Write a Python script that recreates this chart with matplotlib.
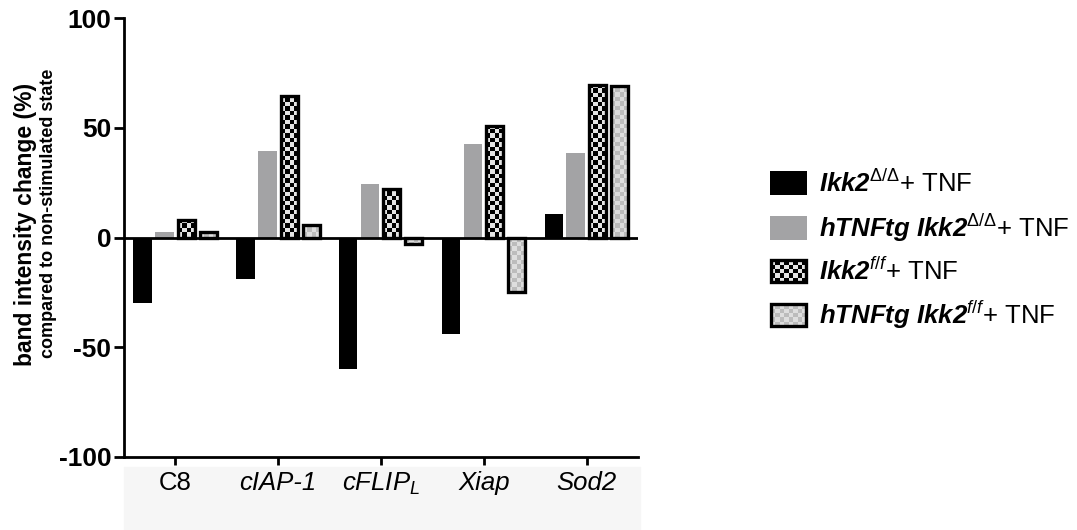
import numpy as np
import matplotlib
matplotlib.use("Agg")
import matplotlib.pyplot as plt
from matplotlib.colors import ListedColormap
from matplotlib.patches import Rectangle

plt.rcParams["font.family"] = ["Liberation Sans", "DejaVu Sans"]
plt.rcParams["mathtext.fontset"] = "custom"
plt.rcParams["mathtext.rm"] = "Liberation Sans"
plt.rcParams["mathtext.it"] = "Liberation Sans:italic"
plt.rcParams["mathtext.bf"] = "Liberation Sans:bold"
plt.rcParams["mathtext.bfit"] = "Liberation Sans:bold:italic"

genes = ["C8", "cIAP-1", r"$\mathit{cFLIP}_{\mathit{L}}$", "Xiap", "Sod2"]
ikk2_dd = [-30, -19, -60, -44, 10.5]
htnf_dd = [2.6, 39.5, 24.3, 42.5, 38.5]
ikk2_ff = [8.2, 64.5, 22, 51, 69.5]
htnf_ff = [2.3, 5.5, -3, -25, 68.8]

legend_labels = [
    r"$\mathbfit{Ikk2}^{\mathit{Δ/Δ}}$+ TNF",
    r"$\mathbfit{hTNFtg\ Ikk2}^{\mathit{Δ/Δ}}$+ TNF",
    r"$\mathbfit{Ikk2}^{\mathit{f/f}}$+ TNF",
    r"$\mathbfit{hTNFtg\ Ikk2}^{\mathit{f/f}}$+ TNF",
]

GRAY = "#a3a3a5"
DARK_CHECK = ("#000000", "#e4e4e4")
LIGHT_CHECK = ("#bcbcbc", "#dedede")


def checker(axis, patch, colors, extent, nx, ny):
    arr = np.add.outer(np.arange(ny), np.arange(nx)) % 2
    im = axis.imshow(arr, cmap=ListedColormap(list(colors)), extent=extent,
                     interpolation="nearest", aspect="auto", zorder=2)
    im.set_clip_path(patch)


fig = plt.figure(figsize=(10.77, 5.30), dpi=100)
W, H = 1077, 530
ax = fig.add_axes([124 / W, 1 - 457 / H, (638 - 124) / W, (457 - 18) / H])

# pale band behind the category labels
fig.add_artist(Rectangle((124 / W, 0), (640 - 124) / W, (530 - 467) / H,
                         transform=fig.transFigure, color="#f6f6f6", zorder=-1))

x = np.arange(len(genes))
step = 0.213
w = 0.18
ax.bar(x - 1.5 * step, ikk2_dd, w, color="black", zorder=3)
ax.bar(x - 0.5 * step, htnf_dd, w, color=GRAY, zorder=3)

cx, cy = 0.043, 2.05
for vals, off, cols in [(ikk2_ff, 0.5, DARK_CHECK), (htnf_ff, 1.5, LIGHT_CHECK)]:
    bars = ax.bar(x + off * step, vals, 0.165, facecolor="none",
                  edgecolor="black", linewidth=2.4, zorder=3)
    for b, v in zip(bars, vals):
        x0 = b.get_x()
        nx = int(np.ceil(b.get_width() / cx))
        ny = max(1, int(np.ceil(abs(v) / cy)))
        top = ny * cy * np.sign(v)
        checker(ax, b, cols, [x0, x0 + nx * cx, min(0, top), max(0, top)], nx, ny)

ax.axhline(0, color="black", linewidth=2, zorder=4)

ax.set_xlim(-0.5, 4.5)
ax.set_ylim(-100, 100)
ax.set_yticks([-100, -50, 0, 50, 100])
ax.set_yticklabels(["-100", "-50", "0", "50", "100"], fontsize=19, fontweight="bold")
ax.set_xticks(x)
ax.set_xticklabels(genes, fontsize=18.5)
for i, t in enumerate(ax.get_xticklabels()):
    if i in (1, 3, 4):
        t.set_fontstyle("italic")
for s in ("top", "right"):
    ax.spines[s].set_visible(False)
for s in ("left", "bottom"):
    ax.spines[s].set_linewidth(2)
ax.tick_params(axis="y", length=7, width=2, pad=2)
ax.tick_params(axis="x", length=6, width=2, pad=4)

fig.text(26 / W, 1 - 224 / H, "band intensity change (%)", rotation=90,
         ha="center", va="center", fontsize=16.5, fontweight="bold")
fig.text(49 / W, 1 - 213 / H, "compared to non-stimulated state", rotation=90,
         ha="center", va="center", fontsize=13, fontweight="bold")

# legend drawn by hand in pixel coordinates
lax = fig.add_axes([0, 0, 1, 1])
lax.set_xlim(0, W)
lax.set_ylim(H, 0)
lax.axis("off")
rows = [183, 228, 271, 315]
styles = [("black", None), (GRAY, None), (None, DARK_CHECK), (None, LIGHT_CHECK)]
for yc, (fc, cols), lab in zip(rows, styles, legend_labels):
    if cols is None:
        lax.add_patch(Rectangle((770, yc - 12), 37, 24, facecolor=fc,
                                edgecolor="none", zorder=3))
    else:
        r = Rectangle((771, yc - 11), 35, 22, facecolor="none",
                      edgecolor="black", linewidth=2.4, zorder=3)
        lax.add_patch(r)
        checker(lax, r, cols, [771, 771 + 8 * 4.5, yc + 11, yc - 11 - 4], 8, 6)
    lax.text(819, yc, lab, fontsize=18.5, va="center", ha="left")
lax.set_xlim(0, W)
lax.set_ylim(H, 0)

fig.savefig("out.png", dpi=100)
